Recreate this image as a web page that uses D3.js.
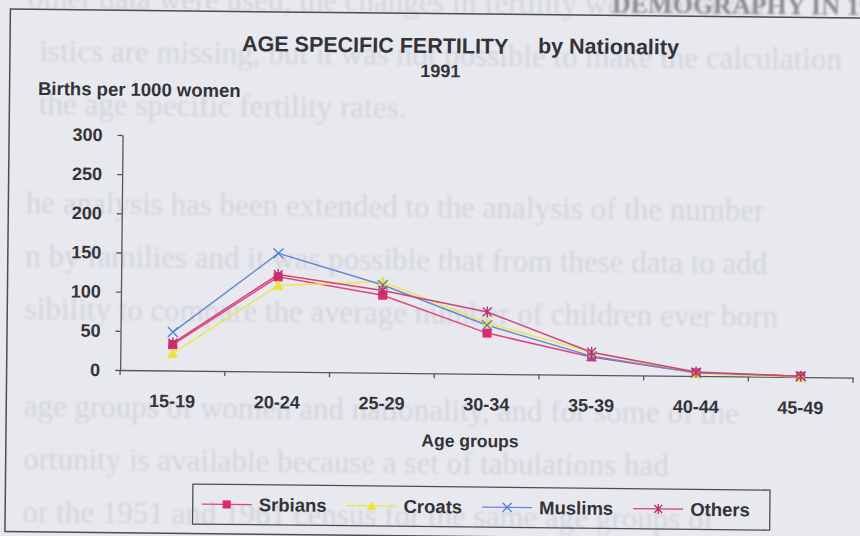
<!DOCTYPE html>
<html>
<head>
<meta charset="utf-8">
<script src="https://cdn.jsdelivr.net/npm/d3@7"></script>
<style>
  html, body { margin: 0; padding: 0; background: #e8e9ef; }
  svg { display: block; }
</style>
</head>
<body>
<svg id="chart" width="860" height="536"></svg>
<script>
// ---- data ----
const ageGroups = ["15-19", "20-24", "25-29", "30-34", "35-39", "40-44", "45-49"];
const srbians = [33, 121, 99, 52, 23, 4, 1];
const croats  = [22, 110, 116, 65, 29, 3, 0];
const muslims = [49, 151, 112, 62, 24, 4, 1];
const others  = [35, 124, 105, 79, 29, 5, 1];
const seriesNames = ["Srbians", "Croats", "Muslims", "Others"];
const yTickValues = [0, 50, 100, 150, 200, 250, 300];

// printed page text showing through behind the chart
const pageParagraphs = [
  ["other data were used, the changes in fertility were observed",
   "istics are missing, but it was not possible to make the calculation",
   "the age specific fertility rates."],
  ["he analysis has been extended to the analysis of the number",
   "n by families and it was possible that from these data to add",
   "sibility to compare the average number of children ever born"],
  ["age groups of women and nationality, and for some of the",
   "ortunity is available because a set of tabulations had",
   "or the 1951 and 1961 census for the same age groups of"]
];

const series = [
  { name: seriesNames[0], values: srbians, line: "#e2457e", fill: "#dc2a6c", marker: "square" },
  { name: seriesNames[1], values: croats,  line: "#ece64c", fill: "#eee23a", marker: "triangle" },
  { name: seriesNames[2], values: muslims, line: "#6688d6", fill: "#5a80d4", marker: "times" },
  { name: seriesNames[3], values: others,  line: "#d4417a", fill: "#b8306c", marker: "asterisk" }
];

const svg = d3.select("#chart");
const textColor = "#333338";
const sans = "Arial, 'Liberation Sans', Helvetica, sans-serif";

// the whole sheet sits slightly tilted
const page = svg.append("g").attr("transform", "rotate(0.6)");

// faint page text
const defs = svg.append("defs");
defs.append("filter").attr("id", "soft")
  .append("feGaussianBlur").attr("stdDeviation", 1.1);

const paraStarts = [8, 213, 416];
const bg = page.append("g").attr("filter", "url(#soft)")
  .attr("font-family", "'Liberation Serif', 'Times New Roman', serif")
  .attr("font-size", 31).attr("fill", "#d2d4dc");
pageParagraphs.forEach((para, pi) => {
  para.forEach((line, li) => {
    bg.append("text")
      .attr("x", pi === 0 && li > 0 ? 40 : 28)
      .attr("y", paraStarts[pi] + li * 53)
      .text(line);
  });
});
page.append("text")
  .attr("x", 612).attr("y", 6)
  .attr("font-family", "'Liberation Serif', 'Times New Roman', serif")
  .attr("font-weight", "bold").attr("font-size", 26)
  .attr("fill", "#8a8b92").attr("filter", "url(#soft)")
  .text("DEMOGRAPHY IN 1991");

// chart frame
page.append("rect")
  .attr("x", 10.5).attr("y", 9).attr("width", 880).attr("height", 522.5)
  .attr("fill", "none").attr("stroke", "#4c4d53").attr("stroke-width", 1.5);

// scales
const x = d3.scaleBand().domain(ageGroups).range([124, 857]);
const y = d3.scaleLinear().domain([0, 300]).range([368.7, 133.7]);

// titles
page.append("text")
  .attr("x", 242.5).attr("y", 48.5)
  .attr("font-family", sans).attr("font-weight", "bold").attr("font-size", 21.5)
  .attr("fill", textColor).text("AGE SPECIFIC FERTILITY");
page.append("text")
  .attr("x", 538.5).attr("y", 47.5)
  .attr("font-family", sans).attr("font-weight", "bold").attr("font-size", 21.5)
  .attr("fill", textColor).text("by Nationality");
page.append("text")
  .attr("x", 441).attr("y", 72.5).attr("text-anchor", "middle")
  .attr("font-family", sans).attr("font-weight", "bold").attr("font-size", 18)
  .attr("fill", textColor).text("1991");
page.append("text")
  .attr("x", 39).attr("y", 94.5)
  .attr("font-family", sans).attr("font-weight", "bold").attr("font-size", 18.5)
  .attr("fill", textColor).text("Births per 1000 women");

// y axis
const yAxis = page.append("g")
  .attr("transform", `translate(${x.range()[0]},0)`)
  .call(d3.axisLeft(y).tickValues(yTickValues).tickSize(5).tickPadding(15).tickSizeOuter(0));
yAxis.select(".domain").attr("stroke", "#55565c").attr("stroke-width", 1.3);
yAxis.selectAll(".tick line").attr("stroke", "#55565c").attr("stroke-width", 1.3);
yAxis.selectAll(".tick text")
  .attr("font-family", sans).attr("font-weight", "bold").attr("font-size", 18)
  .attr("fill", textColor);

// x axis: labels centred on bands, tick marks between bands
const xAxis = page.append("g")
  .attr("transform", `translate(0,${y(0)})`)
  .call(d3.axisBottom(x).tickSize(0).tickPadding(24).tickSizeOuter(0));
xAxis.select(".domain").attr("stroke", "#55565c").attr("stroke-width", 1.3);
xAxis.selectAll(".tick text")
  .attr("font-family", sans).attr("font-weight", "bold").attr("font-size", 18)
  .attr("fill", textColor);
const boundaries = ageGroups.map(d => x(d)).concat([x.range()[1]]);
xAxis.selectAll("line.sep").data(boundaries).join("line")
  .attr("class", "sep")
  .attr("x1", d => d).attr("x2", d => d)
  .attr("y1", 0).attr("y2", 5)
  .attr("stroke", "#55565c").attr("stroke-width", 1.3);

page.append("text")
  .attr("x", 474.6).attr("y", 442).attr("text-anchor", "middle")
  .attr("font-family", sans).attr("font-weight", "bold").attr("font-size", 17.5)
  .attr("fill", textColor).text("Age groups");

// marker drawing
function drawMarker(sel, s, size) {
  const k = size / 10;
  if (s.marker === "square") {
    sel.append("rect")
      .attr("x", -4.5 * k).attr("y", -4.5 * k).attr("width", 9 * k).attr("height", 9 * k)
      .attr("fill", s.fill);
  } else if (s.marker === "triangle") {
    sel.append("path")
      .attr("d", `M0,${-5.5 * k}L${5.5 * k},${4.5 * k}L${-5.5 * k},${4.5 * k}Z`)
      .attr("fill", s.fill);
  } else if (s.marker === "times") {
    const r = 5 * k;
    sel.append("path")
      .attr("d", `M${-r},${-r}L${r},${r}M${-r},${r}L${r},${-r}`)
      .attr("stroke", s.fill).attr("stroke-width", 1.4).attr("fill", "none");
  } else {
    const r = 5.5 * k;
    sel.append("path")
      .attr("d", `M${-r * 0.8},${-r * 0.8}L${r * 0.8},${r * 0.8}M${-r * 0.8},${r * 0.8}L${r * 0.8},${-r * 0.8}M0,${-r}L0,${r}`)
      .attr("stroke", s.fill).attr("stroke-width", 1.4).attr("fill", "none");
  }
}

// series lines and markers
const cx = d => x(d) + x.bandwidth() / 2;
const line = d3.line().x(d => cx(d.age)).y(d => y(d.value));
const plot = page.append("g");
series.forEach(s => {
  const pts = ageGroups.map((a, i) => ({ age: a, value: s.values[i] }));
  plot.append("path").datum(pts)
    .attr("d", line).attr("fill", "none")
    .attr("stroke", s.line).attr("stroke-width", 1.5);
});
series.forEach(s => {
  const pts = ageGroups.map((a, i) => ({ age: a, value: s.values[i] }));
  pts.forEach(p => {
    const g = plot.append("g").attr("transform", `translate(${cx(p.age)},${y(p.value)})`);
    drawMarker(g, s, 10);
  });
});

// legend
const legend = page.append("g");
const legendX = 198, legendTop = 482, legendH = 40;
let cursor = legendX + 9;
const legendItems = legend.append("g");
series.forEach(s => {
  const g = legendItems.append("g").attr("transform", `translate(${cursor},${legendTop + legendH / 2})`);
  g.append("line").attr("x1", 0).attr("x2", 50).attr("y1", 0).attr("y2", 0)
    .attr("stroke", s.line).attr("stroke-width", 1.3);
  const m = g.append("g").attr("transform", "translate(25,0)");
  drawMarker(m, s, 9);
  const t = g.append("text").attr("x", 57).attr("y", 6.5)
    .attr("font-family", sans).attr("font-weight", "bold").attr("font-size", 18.5)
    .attr("fill", textColor).text(s.name);
  cursor += 57 + t.node().getComputedTextLength() + 20;
});
legend.insert("rect", ":first-child")
  .attr("x", legendX).attr("y", legendTop)
  .attr("width", cursor - legendX).attr("height", legendH)
  .attr("fill", "none").attr("stroke", "#4c4d53").attr("stroke-width", 1.3);
</script>
</body>
</html>
